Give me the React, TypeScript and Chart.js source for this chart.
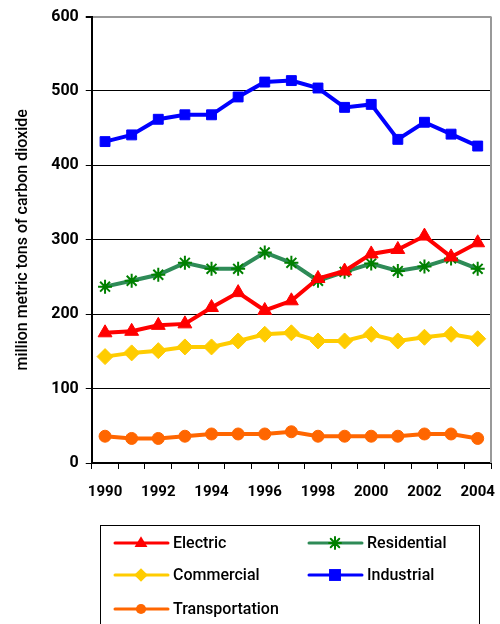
import React, { useEffect, useRef } from 'react';
import { Chart, registerables } from 'chart.js';

Chart.register(...registerables);

const years = ['1990', '1991', '1992', '1993', '1994', '1995', '1996', '1997', '1998', '1999', '2000', '2001', '2002', '2003', '2004'];
const electric = [175, 177, 185, 187, 209, 229, 205, 218, 248, 258, 281, 287, 305, 277, 296];
const residential = [237, 245, 253, 269, 261, 261, 283, 269, 245, 257, 268, 258, 264, 275, 261];
const commercial = [143, 148, 151, 156, 156, 164, 173, 175, 164, 164, 173, 164, 169, 173, 167];
const industrial = [432, 441, 462, 468, 468, 492, 512, 514, 504, 478, 482, 435, 458, 442, 426];
const transportation = [36, 33, 33, 36, 39, 39, 39, 42, 36, 36, 36, 36, 39, 39, 33];
const yTicks = [0, 100, 200, 300, 400, 500, 600];
const yTitle = 'million metric tons of carbon dioxide';

const FONT = "Roboto, 'Liberation Sans', sans-serif";

type Series = { label: string; data: number[]; line: string; marker: string; style: string; radius: number };
const series: Series[] = [
  { label: 'Electric', data: electric, line: '#FF0000', marker: '#FF0000', style: 'triangle', radius: 8 },
  { label: 'Residential', data: residential, line: '#2E8B57', marker: '#008000', style: 'star', radius: 7 },
  { label: 'Commercial', data: commercial, line: '#FFCC00', marker: '#FFCC00', style: 'rectRot', radius: 8 },
  { label: 'Industrial', data: industrial, line: '#0000FF', marker: '#0000FF', style: 'rect', radius: 7 },
  { label: 'Transportation', data: transportation, line: '#FF6600', marker: '#FF6600', style: 'circle', radius: 6 },
];

function drawMarker(ctx: CanvasRenderingContext2D, style: string, x: number, y: number, r: number, color: string) {
  ctx.save();
  ctx.fillStyle = color;
  ctx.strokeStyle = color;
  ctx.beginPath();
  if (style === 'triangle') {
    ctx.moveTo(x, y - r);
    ctx.lineTo(x + r * 0.95, y + r * 0.6);
    ctx.lineTo(x - r * 0.95, y + r * 0.6);
    ctx.closePath();
    ctx.fill();
  } else if (style === 'rect') {
    ctx.rect(x - r, y - r, 2 * r, 2 * r);
    ctx.fill();
  } else if (style === 'rectRot') {
    ctx.moveTo(x, y - r);
    ctx.lineTo(x + r, y);
    ctx.lineTo(x, y + r);
    ctx.lineTo(x - r, y);
    ctx.closePath();
    ctx.fill();
  } else if (style === 'circle') {
    ctx.arc(x, y, r, 0, Math.PI * 2);
    ctx.fill();
  } else if (style === 'star') {
    ctx.lineWidth = 2;
    ctx.moveTo(x - r, y);
    ctx.lineTo(x + r, y);
    ctx.moveTo(x, y - r);
    ctx.lineTo(x, y + r);
    const d = r * 0.72;
    ctx.moveTo(x - d, y - d);
    ctx.lineTo(x + d, y + d);
    ctx.moveTo(x - d, y + d);
    ctx.lineTo(x + d, y - d);
    ctx.stroke();
  }
  ctx.restore();
}

const frame = {
  id: 'frame',
  afterDraw(chart: any) {
    const { ctx, chartArea } = chart;
    ctx.save();
    ctx.strokeStyle = '#999999';
    ctx.lineWidth = 2;
    ctx.beginPath();
    ctx.moveTo(chartArea.right, chartArea.top);
    ctx.lineTo(chartArea.right, chartArea.bottom);
    ctx.stroke();
    ctx.restore();

    // legend box
    const bx = 100, by = 525, bw = 379, bh = 110;
    ctx.save();
    ctx.strokeStyle = '#000';
    ctx.lineWidth = 1;
    ctx.strokeRect(bx + 0.5, by + 0.5, bw, bh);
    const cols = [115, 309];
    const rows = [543, 575, 609];
    series.forEach((s, i) => {
      const x = cols[i % 2];
      const y = rows[Math.floor(i / 2)];
      ctx.strokeStyle = s.line;
      ctx.lineWidth = 3;
      ctx.lineCap = 'round';
      ctx.beginPath();
      ctx.moveTo(x, y);
      ctx.lineTo(x + 53, y);
      ctx.stroke();
      drawMarker(ctx, s.style, x + 26, y, s.radius * 0.85, s.marker);
      ctx.fillStyle = '#000';
      ctx.font = `500 16px ${FONT}`;
      ctx.textBaseline = 'middle';
      ctx.textAlign = 'left';
      ctx.fillText(s.label, x + 58, y + 1);
    });
    ctx.restore();
  },
};

export default function App() {
  const ref = useRef<HTMLCanvasElement | null>(null);
  useEffect(() => {
    if (!ref.current) return;
    const chart = new Chart(ref.current, {
      type: 'line',
      data: {
        labels: years,
        datasets: series.map((s) => ({
          label: s.label,
          data: s.data,
          borderColor: s.line,
          backgroundColor: s.marker,
          pointBackgroundColor: s.marker,
          pointBorderColor: s.marker,
          pointStyle: s.style as any,
          pointRadius: s.radius,
          pointBorderWidth: s.style === 'star' ? 2 : 1,
          borderWidth: 4,
          tension: 0,
        })),
      },
      options: {
        animation: false,
        responsive: false,
        maintainAspectRatio: false,
        layout: { padding: { left: 13, top: 13, right: 6, bottom: 109 } },
        plugins: { legend: { display: false }, tooltip: { enabled: false } },
        scales: {
          x: {
            offset: true,
            afterFit: (s: any) => {
              s.paddingRight = 0;
              s.paddingLeft = 0;
            },
            grid: { offset: true, drawOnChartArea: false, drawTicks: true, tickLength: 6, color: '#000', lineWidth: 1 },
            border: { display: true, color: '#000', width: 2 },
            ticks: {
              autoSkip: false,
              maxRotation: 0,
              padding: 14,
              color: '#000',
              font: { family: FONT, size: 15, weight: 'bold' },
              callback: (_v: any, i: number) => (i % 2 === 0 ? years[i] : ''),
            },
          },
          y: {
            min: 0,
            max: 600,
            afterBuildTicks: (axis: any) => {
              axis.ticks = yTicks.map((v) => ({ value: v }));
            },
            grid: {
              color: (c: any) => (c.tick && c.tick.value === 600 ? '#999999' : '#000000'),
              lineWidth: (c: any) => (c.tick && c.tick.value === 600 ? 2 : 1),
              tickLength: 6,
              tickColor: '#000',
            },
            border: { display: true, color: '#000', width: 2 },
            ticks: {
              color: '#000',
              padding: 7,
              font: { family: FONT, size: 16, weight: 'bold' },
            },
            title: {
              display: true,
              text: yTitle,
              color: '#000',
              padding: { top: 0, bottom: 12 },
              font: { family: FONT, size: 16, weight: '500' },
            },
          },
        },
      },
      plugins: [frame],
    });
    return () => chart.destroy();
  }, []);
  return (
    <div style={{ position: 'fixed', left: 0, top: 0, width: 500, height: 624, background: '#fff' }}>
      <canvas ref={ref} width={500} height={624} style={{ width: 500, height: 624 }} />
    </div>
  );
}
